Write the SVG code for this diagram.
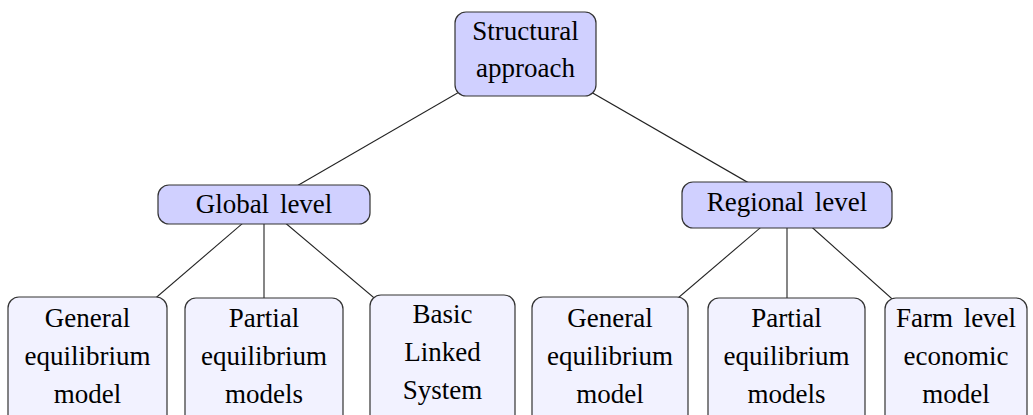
<svg xmlns="http://www.w3.org/2000/svg" width="1033" height="415" viewBox="0 0 1033 415">
<defs>
<style>
.hi{fill:#d0d0ff;stroke:#333;stroke-width:1.2}
.lo{fill:#f2f2ff;stroke:#333;stroke-width:1.2}
</style>
</defs>
<rect width="1033" height="415" fill="#fff"/>
<g id="connectors" stroke="#222" stroke-width="1.1" fill="none">
<line x1="525" y1="54" x2="264" y2="205"/>
<line x1="525" y1="54" x2="787" y2="205"/>
<line x1="264" y1="205" x2="88" y2="356"/>
<line x1="264" y1="205" x2="264" y2="356"/>
<line x1="264" y1="205" x2="443" y2="356"/>
<line x1="787" y1="205" x2="610" y2="356"/>
<line x1="787" y1="205" x2="787" y2="356"/>
<line x1="787" y1="205" x2="956" y2="356"/>
</g>
<g id="structural">
<rect class="hi" x="455" y="12" width="141" height="84" rx="11"/>
<text style="font-family:'Liberation Serif',serif !important;font-size:27px" text-anchor="middle" x="525.5" y="40">Structural</text>
<text style="font-family:'Liberation Serif',serif !important;font-size:27px" text-anchor="middle" x="525.5" y="77">approach</text>
</g>
<g id="global">
<rect class="hi" x="158" y="185" width="212" height="39" rx="11"/>
<text style="font-family:'Liberation Serif',serif !important;font-size:27px" text-anchor="middle" x="264" y="213" word-spacing="4">Global level</text>
</g>
<g id="regional">
<rect class="hi" x="682" y="182" width="210" height="46" rx="11"/>
<text style="font-family:'Liberation Serif',serif !important;font-size:27px" text-anchor="middle" x="787" y="211" word-spacing="4">Regional level</text>
</g>
<g id="g-general">
<rect class="lo" x="8" y="297" width="159" height="130" rx="11"/>
<text style="font-family:'Liberation Serif',serif !important;font-size:27px" text-anchor="middle" x="87.5" y="327">General</text>
<text style="font-family:'Liberation Serif',serif !important;font-size:27px" text-anchor="middle" x="87.5" y="365">equilibrium</text>
<text style="font-family:'Liberation Serif',serif !important;font-size:27px" text-anchor="middle" x="87.5" y="403">model</text>
</g>
<g id="g-partial">
<rect class="lo" x="185" y="298" width="158" height="130" rx="11"/>
<text style="font-family:'Liberation Serif',serif !important;font-size:27px" text-anchor="middle" x="264" y="327">Partial</text>
<text style="font-family:'Liberation Serif',serif !important;font-size:27px" text-anchor="middle" x="264" y="365">equilibrium</text>
<text style="font-family:'Liberation Serif',serif !important;font-size:27px" text-anchor="middle" x="264" y="403">models</text>
</g>
<g id="g-basic">
<rect class="lo" x="370" y="295" width="145" height="132" rx="11"/>
<text style="font-family:'Liberation Serif',serif !important;font-size:27px" text-anchor="middle" x="442.5" y="323">Basic</text>
<text style="font-family:'Liberation Serif',serif !important;font-size:27px" text-anchor="middle" x="442.5" y="361">Linked</text>
<text style="font-family:'Liberation Serif',serif !important;font-size:27px" text-anchor="middle" x="442.5" y="399">System</text>
</g>
<g id="r-general">
<rect class="lo" x="532" y="297" width="156" height="130" rx="11"/>
<text style="font-family:'Liberation Serif',serif !important;font-size:27px" text-anchor="middle" x="610" y="327">General</text>
<text style="font-family:'Liberation Serif',serif !important;font-size:27px" text-anchor="middle" x="610" y="365">equilibrium</text>
<text style="font-family:'Liberation Serif',serif !important;font-size:27px" text-anchor="middle" x="610" y="403">model</text>
</g>
<g id="r-partial">
<rect class="lo" x="708" y="298" width="157" height="130" rx="11"/>
<text style="font-family:'Liberation Serif',serif !important;font-size:27px" text-anchor="middle" x="786.5" y="327">Partial</text>
<text style="font-family:'Liberation Serif',serif !important;font-size:27px" text-anchor="middle" x="786.5" y="365">equilibrium</text>
<text style="font-family:'Liberation Serif',serif !important;font-size:27px" text-anchor="middle" x="786.5" y="403">models</text>
</g>
<g id="r-farm">
<rect class="lo" x="885" y="298" width="142" height="130" rx="11"/>
<text style="font-family:'Liberation Serif',serif !important;font-size:27px" text-anchor="middle" x="956" y="327" word-spacing="4">Farm level</text>
<text style="font-family:'Liberation Serif',serif !important;font-size:27px" text-anchor="middle" x="956" y="365">economic</text>
<text style="font-family:'Liberation Serif',serif !important;font-size:27px" text-anchor="middle" x="956" y="403">model</text>
</g>
</svg>
